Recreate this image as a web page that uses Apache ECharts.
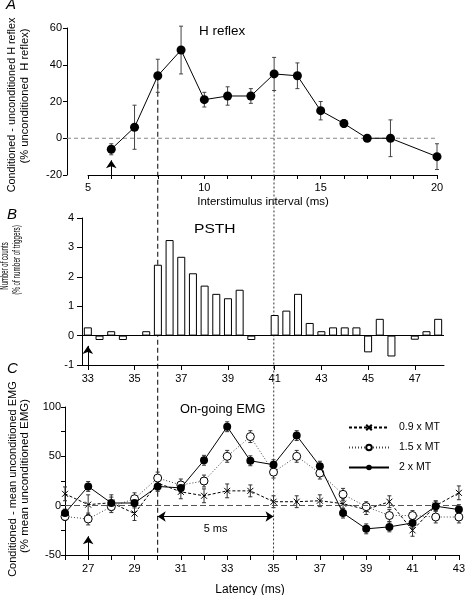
<!DOCTYPE html>
<html><head><meta charset="utf-8">
<script src="https://cdn.jsdelivr.net/npm/echarts@6/dist/echarts.min.js"></script>
<style>html,body{margin:0;padding:0;background:#fff}#c{width:468px;height:595px}</style>
</head><body><div id="c"></div>
<script>
// ---------- Panel A: H reflex ----------
const hInterval = [6, 7, 8, 9, 10, 11, 12, 13, 14, 15, 16, 17, 18, 20];
const hReflex   = [-6, 6, 34, 48, 21, 23, 23, 35, 34, 15, 8, 0, 0, -10];
const hErr      = [3, 12, 9, 13, 4, 5, 4, 9, 7, 5, 2, 1, 10, 7];
const hXLabels  = [5, 10, 15, 20];

// ---------- Panel B: PSTH ----------
const psthBins = [33, 33.5, 34, 34.5, 35, 35.5, 36, 36.5, 37, 37.5, 38, 38.5, 39, 39.5, 40, 40.5,
                  41, 41.5, 42, 42.5, 43, 43.5, 44, 44.5, 45, 45.5, 46, 46.5, 47, 47.5, 48];
const psthCounts = [0.28, -0.15, 0.15, -0.15, null, 0.15, 2.41, 3.25, 2.68, 2.12, 1.70, 1.42, 1.27, 1.56, -0.15, null,
                    0.70, 0.85, 1.42, 0.43, 0.15, 0.28, 0.28, 0.28, -0.57, 0.57, -0.71, null, -0.14, 0.15, 0.57];
const psthXLabels = [33, 35, 37, 39, 41, 43, 45, 47];

// ---------- Panel C: On-going EMG ----------
const emgLatency = [26, 27, 28, 29, 30, 31, 32, 33, 34, 35, 36, 37, 38, 39, 40, 41, 42, 43];
const emg09  = [12, 1, 3, -8, 23, 14, 10, 15, 15, 4, 4, 5, 2, -4, 4, -25, 0, 13];
const emg09E = [7, 10, 8, 7, 7, 7, 7, 7, 6, 6, 6, 6, 5, 5, 6, 6, 5, 7];
const emg15  = [-11, -13.5, -1, 7, 28, 21, 25, 50, 70, 34, 50, 33, 11.5, -1, -10, -10, -11.5, -11.5];
const emg15E = [4, 6, 6, 6, 6, 6, 6, 6, 6, 6, 6, 6, 6, 5, 6, 5, 6, 6];
const emg20  = [-7.5, 19.5, 2.7, 2.7, 19.5, 18, 46, 80, 45.5, 41.5, 71, 40, -7.5, -23.5, -21.5, -17.5, -0.5, -4];
const emg20E = [4, 5, 6, 5, 5, 5, 5, 5, 5, 5, 5, 5, 5, 5, 5, 5, 5, 5];
const emgNames = ['0.9 x MT', '1.5 x MT', '2 x MT'];

const FONT = '"Liberation Sans", Arial, sans-serif';
const A_OFFSET = 21;

function errSeries(gi, xs, ys, es, color, cap) {
  return {
    type: 'custom', xAxisIndex: gi, yAxisIndex: gi, silent: true, z: 2,
    data: xs.map((x, i) => [x, ys[i] - es[i], ys[i] + es[i]]),
    encode: {x: 0, y: [1, 2]},
    renderItem(params, api) {
      const lo = api.coord([api.value(0), api.value(1)]);
      const hi = api.coord([api.value(0), api.value(2)]);
      const s = {stroke: color, lineWidth: 1};
      return {type: 'group', children: [
        {type: 'line', shape: {x1: lo[0], y1: lo[1], x2: hi[0], y2: hi[1]}, style: s},
        {type: 'line', shape: {x1: lo[0] - cap, y1: lo[1], x2: lo[0] + cap, y2: lo[1]}, style: s},
        {type: 'line', shape: {x1: hi[0] - cap, y1: hi[1], x2: hi[0] + cap, y2: hi[1]}, style: s}
      ]};
    }
  };
}

function axisBase() {
  return {
    axisLine: {show: true, onZero: false, lineStyle: {color: '#000', width: 1}},
    axisTick: {show: true, length: 5, lineStyle: {color: '#000', width: 1}},
    splitLine: {show: false},
    axisLabel: {color: '#000', fontSize: 11, fontFamily: FONT}
  };
}

const arrowUp = (x, y0, y1) => ({
  silent: true, symbol: ['none', 'arrow'], symbolSize: 8,
  lineStyle: {color: '#000', type: 'solid', width: 1}, label: {show: false},
  data: [[{coord: [x, y0]}, {coord: [x, y1]}]]
});

const xA = axisBase(); Object.assign(xA, {type: 'value', gridIndex: 0, min: 5, max: 20, interval: 1});
xA.axisTick.length = 4;
xA.axisLabel.formatter = v => hXLabels.includes(v) ? String(v) : '';
xA.axisLabel.margin = 7;
const yA = axisBase(); Object.assign(yA, {type: 'value', gridIndex: 0, min: -20, max: 60, interval: 20, offset: A_OFFSET});
yA.axisTick.length = 4;
yA.axisLabel.margin = 5;

const xB = axisBase(); Object.assign(xB, {type: 'value', gridIndex: 1, min: 32.75, max: 48.25});
xB.axisTick.customValues = psthXLabels; xB.axisLabel.customValues = psthXLabels; xB.axisLabel.margin = 8;
const yB = axisBase(); Object.assign(yB, {type: 'value', gridIndex: 1, min: -1, max: 4, interval: 1});
yB.axisLabel.margin = 8;

const xC = axisBase(); Object.assign(xC, {type: 'value', gridIndex: 2, min: 26, max: 43, interval: 1});
xC.axisLabel.formatter = v => (v % 2 === 1) ? String(v) : '';
xC.axisLabel.margin = 8;
const yC = axisBase(); Object.assign(yC, {type: 'value', gridIndex: 2, min: -50, max: 100, interval: 25});
yC.axisTick.length = 4;
yC.axisLabel.formatter = v => (v % 50 === 0) ? String(v) : '';
yC.axisLabel.margin = 4;

const xMark = 'path://M0,0L10,10M10,0L0,10';

const option = {
  animation: false,
  backgroundColor: '#fff',
  textStyle: {fontFamily: FONT},
  grid: [
    {left: 88, right: 31, top: 28, height: 147},
    {left: 82, right: 24, top: 218, height: 147},
    {left: 65, right: 7, top: 407, height: 148}
  ],
  xAxis: [xA, xB, xC],
  yAxis: [yA, yB, yC],
  legend: {
    data: emgNames, left: 343, top: 417, orient: 'vertical',
    itemWidth: 40, itemHeight: 7, itemGap: 9,
    textStyle: {fontSize: 10.5, fontFamily: FONT, color: '#000', padding: [0, 0, 0, 5]}
  },
  series: [
    errSeries(0, hInterval, hReflex, hErr, '#444', 2),
    {
      type: 'line', xAxisIndex: 0, yAxisIndex: 0, z: 3,
      data: hInterval.map((x, i) => [x, hReflex[i]]),
      symbol: 'circle', symbolSize: 9,
      itemStyle: {color: '#000'}, lineStyle: {color: '#000', width: 1},
      markLine: arrowUp(6, -20, -12)
    },
    {
      type: 'bar', xAxisIndex: 1, yAxisIndex: 1, z: 3, barWidth: 8,
      data: psthBins.map((x, i) => [x, psthCounts[i]]).filter(d => d[1] !== null),
      itemStyle: {color: '#fff', borderColor: '#000', borderWidth: 1},
      markLine: {
        silent: true, symbol: 'none', label: {show: false},
        lineStyle: {color: '#000', type: 'solid', width: 1},
        data: [{yAxis: 0}, [{coord: [33, -1]}, {coord: [33, -0.35], symbol: 'arrow', symbolSize: 8}]]
      }
    },
    errSeries(2, emgLatency, emg09, emg09E, '#333', 2),
    errSeries(2, emgLatency, emg15, emg15E, '#333', 2),
    errSeries(2, emgLatency, emg20, emg20E, '#333', 2),
    {
      name: emgNames[0], type: 'line', xAxisIndex: 2, yAxisIndex: 2, z: 3,
      data: emgLatency.map((x, i) => [x, emg09[i]]),
      symbol: xMark, symbolSize: 6,
      itemStyle: {color: '#000', borderColor: '#000', borderWidth: 1},
      lineStyle: {color: '#000', width: 1, type: [3, 2]},
      markLine: {
        silent: true, symbol: 'none', label: {show: false},
        lineStyle: {color: '#555', type: [6, 3], width: 1},
        data: [{yAxis: 0}]
      }
    },
    {
      name: emgNames[1], type: 'line', xAxisIndex: 2, yAxisIndex: 2, z: 4,
      data: emgLatency.map((x, i) => [x, emg15[i]]),
      symbol: 'circle', symbolSize: 8,
      itemStyle: {color: '#fff', borderColor: '#000', borderWidth: 1},
      lineStyle: {color: '#444', width: 1, type: [1, 2]}
    },
    {
      name: emgNames[2], type: 'line', xAxisIndex: 2, yAxisIndex: 2, z: 5,
      data: emgLatency.map((x, i) => [x, emg20[i]]),
      symbol: 'circle', symbolSize: 8,
      itemStyle: {color: '#000'}, lineStyle: {color: '#000', width: 1},
      markLine: {
        silent: true, label: {show: false},
        lineStyle: {color: '#000', type: 'solid', width: 1},
        data: [
          [{coord: [27, -50], symbol: 'none'}, {coord: [27, -31], symbol: 'arrow', symbolSize: 8}],
          [{coord: [30, -11], symbol: 'arrow', symbolSize: 8}, {coord: [35, -11], symbol: 'arrow', symbolSize: 8}]
        ]
      }
    }
  ]
};

const chart = echarts.init(document.getElementById('c'));
chart.setOption(option);

// geometry derived from the library's scales
const pA8  = chart.convertToPixel({gridIndex: 0}, [8, 34]);
const pA13 = chart.convertToPixel({gridIndex: 0}, [13, 26]);
const pC30 = chart.convertToPixel({gridIndex: 2}, [30, -50]);
const pC35 = chart.convertToPixel({gridIndex: 2}, [35, -50]);
const pA0L = chart.convertToPixel({gridIndex: 0}, [5, 0]);
const pA0R = chart.convertToPixel({gridIndex: 0}, [20, 0]);
const pArr = chart.convertToPixel({gridIndex: 2}, [32.5, -11]);

const txt = (x, y, text, size, extra) => ({
  type: 'text', x, y, z: 10,
  style: Object.assign({text, font: size + 'px ' + FONT, fill: '#000', align: 'left', verticalAlign: 'middle'}, extra || {})
});

function rotText(x, y, text, size, sx) {
  return {type: 'text', x, y, rotation: Math.PI / 2, scaleX: sx || 1, z: 10,
    style: {text, font: size + 'px ' + FONT, fill: '#000', align: 'center', verticalAlign: 'middle'}};
}

function scaled(el, sx) { el.scaleX = sx; return el; }

chart.setOption({
  graphic: [
    {type: 'line', z: 1, shape: {x1: pA0L[0] - A_OFFSET, y1: pA0L[1], x2: pA0R[0], y2: pA0R[1]},
      style: {stroke: '#888', lineWidth: 1, lineDash: [4, 3]}},
    {type: 'line', z: 1, shape: {x1: pA8[0], y1: pA8[1], x2: pC30[0], y2: pC30[1]},
      style: {stroke: '#000', lineWidth: 1, lineDash: [5, 3]}},
    {type: 'line', z: 1, shape: {x1: pA13[0], y1: pA13[1], x2: pC35[0], y2: pC35[1]},
      style: {stroke: '#333', lineWidth: 1, lineDash: [2, 2]}},
    txt(6, 5, 'A', 15, {font: 'italic 15px ' + FONT}),
    txt(7, 215, 'B', 15, {font: 'italic 15px ' + FONT}),
    txt(7, 369, 'C', 15, {font: 'italic 15px ' + FONT}),
    scaled(txt(199, 32, 'H reflex', 12), 1.12),
    scaled(txt(194, 230, 'PSTH', 12), 1.3),
    txt(180, 409, 'On-going EMG', 12.8),
    txt(263, 202, 'Interstimulus interval (ms)', 11.5, {align: 'center'}),
    txt(250, 590, 'Latency (ms)', 12, {align: 'center'}),
    txt(pArr[0], pArr[1] + 12, '5 ms', 11, {align: 'center'}),
    rotText(12.5, 105, 'Conditioned - unconditioned H reflex', 10.8),
    rotText(25, 96, '(% unconditioned  H reflex)', 11.2),
    rotText(5.5, 266, 'Number of counts', 10, 0.6),
    rotText(17, 260, '(% of number of triggers)', 10, 0.63),
    rotText(12.5, 479, 'Conditioned - mean unconditioned EMG', 11),
    rotText(25, 476, '(% mean unconditioned EMG)', 11.5)
  ]
});
</script>
</body></html>
